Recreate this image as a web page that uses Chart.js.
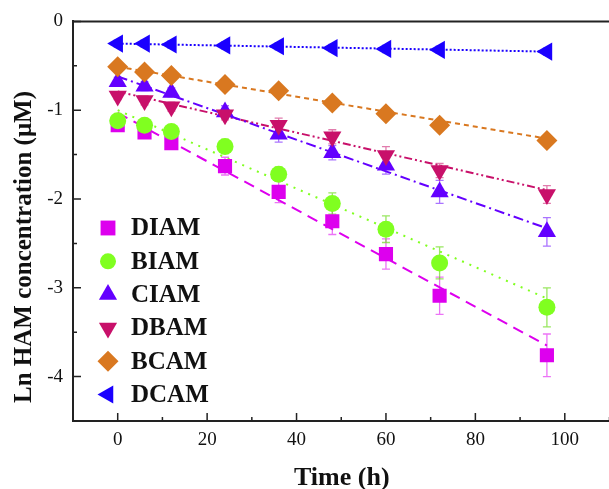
<!DOCTYPE html>
<html>
<head>
<meta charset="utf-8">
<script src="https://cdn.jsdelivr.net/npm/chart.js@4/dist/chart.umd.min.js"></script>
<style>
  html,body{margin:0;padding:0;background:#fff;overflow:hidden;}
  #wrap{width:609px;height:489px;overflow:hidden;position:relative;}
</style>
</head>
<body>
<div id="wrap"><canvas id="chart" width="620" height="489"></canvas></div>
<script>
// ----- Data -----
const TIMES = [0, 6, 12, 24, 36, 48, 60, 72, 96];
const SERIES = ['DIAM', 'BIAM', 'CIAM', 'DBAM', 'BCAM', 'DCAM'];

const DIAM = [-1.17, -1.25, -1.37, -1.63, -1.92, -2.25, -2.62, -3.09, -3.76];
const BIAM = [-1.12, -1.17, -1.24, -1.41, -1.72, -2.05, -2.34, -2.72, -3.22];
const CIAM = [-0.68, -0.73, -0.80, -1.02, -1.27, -1.48, -1.62, -1.92, -2.37];
const DBAM = [-0.84, -0.89, -0.96, -1.05, -1.17, -1.30, -1.51, -1.68, -1.95];
const BCAM = [-0.51, -0.57, -0.61, -0.71, -0.78, -0.92, -1.04, -1.17, -1.34];
const DCAM = [-0.25, -0.25, -0.26, -0.27, -0.28, -0.30, -0.31, -0.32, -0.34];

// error bar half-heights
const DIAM_ERR = [0.04, 0.05, 0.07, 0.10, 0.12, 0.15, 0.17, 0.21, 0.24];
const BIAM_ERR = [0.04, 0.05, 0.05, 0.08, 0.08, 0.12, 0.15, 0.18, 0.22];
const CIAM_ERR = [0.05, 0.05, 0.05, 0.07, 0.09, 0.08, 0.10, 0.13, 0.16];
const DBAM_ERR = [0.04, 0.05, 0.05, 0.06, 0.08, 0.08, 0.10, 0.08, 0.10];
const BCAM_ERR = [0.03, 0.03, 0.03, 0.04, 0.04, 0.04, 0.04, 0.04, 0.04];
const DCAM_ERR = [0.04, 0.04, 0.04, 0.04, 0.04, 0.04, 0.04, 0.04, 0.04];

// fitted lines: value at t=0 and at t=96
const FIT_T = [0, 96];
const DIAM_FIT = [-1.03, -3.65];
const BIAM_FIT = [-1.00, -3.12];
const CIAM_FIT = [-0.62, -2.33];
const DBAM_FIT = [-0.79, -1.90];
const BCAM_FIT = [-0.51, -1.32];
const DCAM_FIT = [-0.25, -0.34];

const X_TICKS = [0, 20, 40, 60, 80, 100];
const X_MINOR = [-10, 10, 30, 50, 70, 90, 110];
const Y_TICKS = [-4, -3, -2, -1, 0];
const Y_MINOR = [-4.5, -3.5, -2.5, -1.5, -0.5];

// ----- Styles -----
const COLORS = ['#dd00ee', '#80ff20', '#6400ff', '#c8106a', '#d97820', '#1a00ff'];
const ERR_COLORS = ['rgba(221,0,238,0.55)', 'rgba(110,220,30,0.7)', 'rgba(100,0,255,0.55)',
                    'rgba(200,16,106,0.55)', 'rgba(217,120,32,0.55)', 'rgba(26,0,255,0.55)'];
const STYLES = ['rect', 'circle', 'triangle', 'triangle', 'rectRot', 'triangle'];
const ROTS = [0, 0, 0, 180, 0, -90];
const RADII = [10, 8.5, 10.5, 10.5, 10.5, 10.5];
const LEG_RADII = [10.5, 8, 10.5, 10.5, 10.5, 10.5];
const DASHES = [[11, 7], [2, 6], [10, 4, 2, 4], [8, 3, 2, 3, 2, 3], [5, 4], [2, 2]];
const FONT = '"Liberation Serif", "Times New Roman", serif';

const VALUES = [DIAM, BIAM, CIAM, DBAM, BCAM, DCAM];
const ERRS = [DIAM_ERR, BIAM_ERR, CIAM_ERR, DBAM_ERR, BCAM_ERR, DCAM_ERR];
const FITS = [DIAM_FIT, BIAM_FIT, CIAM_FIT, DBAM_FIT, BCAM_FIT, DCAM_FIT];

// ----- Datasets -----
const datasets = [];
SERIES.forEach((name, i) => {
  datasets.push({
    type: 'scatter', label: name, order: 6 - i,
    data: TIMES.map((t, k) => ({x: t, y: VALUES[i][k]})),
    backgroundColor: COLORS[i], borderColor: COLORS[i], borderWidth: 0,
    pointStyle: STYLES[i], pointRotation: ROTS[i], pointRadius: RADII[i], pointHoverRadius: RADII[i],
    errs: ERRS[i], errColor: ERR_COLORS[i]
  });
});
SERIES.forEach((name, i) => {
  datasets.push({
    type: 'line', label: name + ' fit', order: 20,
    data: FIT_T.map((t, k) => ({x: t, y: FITS[i][k]})),
    borderColor: COLORS[i], borderWidth: 2, borderDash: DASHES[i],
    pointRadius: 0, fill: false, tension: 0
  });
});

// ----- Plugins -----
const errorBars = {
  id: 'errorBars',
  beforeDatasetsDraw(chart) {
    const {ctx, scales: {x, y}} = chart;
    ctx.save();
    chart.data.datasets.forEach(ds => {
      if (!ds.errs) return;
      ctx.strokeStyle = ds.errColor; ctx.lineWidth = 1.3;
      ds.data.forEach((p, k) => {
        const px = x.getPixelForValue(p.x);
        const y1 = y.getPixelForValue(p.y + ds.errs[k]);
        const y2 = y.getPixelForValue(p.y - ds.errs[k]);
        ctx.beginPath();
        ctx.moveTo(px, y1); ctx.lineTo(px, y2);
        ctx.moveTo(px - 4, y1); ctx.lineTo(px + 4, y1);
        ctx.moveTo(px - 4, y2); ctx.lineTo(px + 4, y2);
        ctx.stroke();
      });
    });
    ctx.restore();
  }
};

const frame = {
  id: 'frame',
  afterDraw(chart) {
    const {ctx, chartArea: a, scales: {x, y}} = chart;
    ctx.save();
    ctx.strokeStyle = '#222'; ctx.lineWidth = 2;
    ctx.beginPath(); ctx.moveTo(a.left - 1, a.top); ctx.lineTo(a.right + 2, a.top); ctx.stroke();
    ctx.lineWidth = 1.5;
    ctx.beginPath();
    X_TICKS.forEach(v => { const px = x.getPixelForValue(v); ctx.moveTo(px, a.bottom); ctx.lineTo(px, a.bottom - 8); });
    X_MINOR.forEach(v => { const px = x.getPixelForValue(v); ctx.moveTo(px, a.bottom); ctx.lineTo(px, a.bottom - 4); });
    Y_TICKS.forEach(v => { const py = y.getPixelForValue(v); ctx.moveTo(a.left, py); ctx.lineTo(a.left + 8, py); });
    Y_MINOR.forEach(v => { const py = y.getPixelForValue(v); ctx.moveTo(a.left, py); ctx.lineTo(a.left + 4, py); });
    ctx.stroke();

    // axis titles
    ctx.fillStyle = '#111';
    ctx.font = 'bold 26px ' + FONT;
    ctx.textBaseline = 'alphabetic'; ctx.textAlign = 'left';
    ctx.fillText('Time (h)', 294, 485);
    ctx.font = 'bold 25px ' + FONT;
    ctx.translate(31, 403); ctx.rotate(-Math.PI / 2);
    ctx.fillText('Ln HAM concentration (\u03bcM)', 0, 0);
    ctx.restore();

    // legend
    ctx.save();
    const drawPoint = Chart.helpers && Chart.helpers.drawPoint;
    SERIES.forEach((name, i) => {
      const ly = 228 + i * 33.3;
      ctx.fillStyle = COLORS[i]; ctx.strokeStyle = COLORS[i]; ctx.lineWidth = 0;
      if (drawPoint) drawPoint(ctx, {pointStyle: STYLES[i], rotation: ROTS[i], radius: LEG_RADII[i], borderWidth: 0}, 108, ly);
      ctx.fillStyle = '#111';
      ctx.font = 'bold 25px ' + FONT;
      ctx.textAlign = 'left'; ctx.textBaseline = 'middle';
      ctx.fillText(name, 131, ly + 1);
    });
    ctx.restore();
  }
};

// ----- Chart -----
new Chart(document.getElementById('chart').getContext('2d'), {
  type: 'scatter',
  data: {datasets},
  options: {
    responsive: false,
    animation: false,
    layout: {padding: {top: 21, right: 9, left: 0, bottom: 0}},
    plugins: {legend: {display: false}, tooltip: {enabled: false}},
    scales: {
      x: {
        type: 'linear', min: -10, max: 110,
        grid: {display: false, drawTicks: false},
        border: {display: true, color: '#222', width: 2},
        afterBuildTicks: s => { s.ticks = X_TICKS.map(v => ({value: v})); },
        afterFit: s => { s.height = 68; },
        ticks: {color: '#111', padding: 8, font: {family: FONT, size: 19}, maxRotation: 0}
      },
      y: {
        type: 'linear', min: -4.5, max: 0,
        grid: {display: false, drawTicks: false},
        border: {display: true, color: '#222', width: 2},
        afterBuildTicks: s => { s.ticks = Y_TICKS.map(v => ({value: v})); },
        afterFit: s => { s.width = 73; },
        ticks: {color: '#111', padding: 10, font: {family: FONT, size: 19}}
      }
    }
  },
  plugins: [errorBars, frame]
});
</script>
</body>
</html>
